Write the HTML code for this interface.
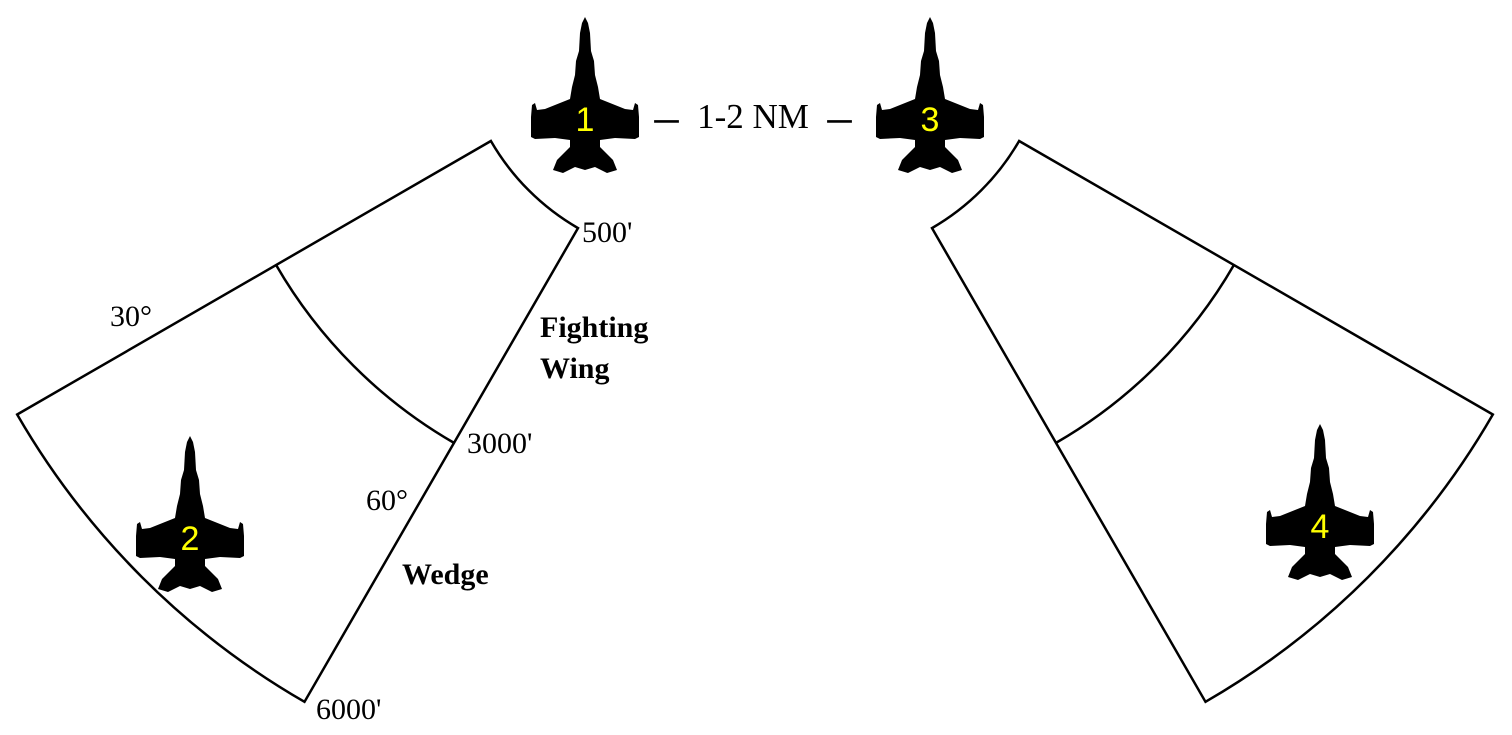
<!DOCTYPE html>
<html><head><meta charset="utf-8"><style>
html,body{margin:0;padding:0;background:#fff;}
svg{display:block;}
text{font-family:"Liberation Serif",serif;fill:#000;}
.num{font-family:"Liberation Sans",sans-serif;fill:#ff0;font-size:34px;}
</style></head><body>
<svg id="c" width="1512" height="735" viewBox="0 0 1512 735">
<g id="wedges"></g>
<g id="planes"></g>
<g>
<text x="655" y="127" font-size="23" stroke="#000" stroke-width="1.5">—</text>
<text x="753" y="128" font-size="35" text-anchor="middle">1-2 NM</text>
<text x="828" y="127" font-size="23" stroke="#000" stroke-width="1.5">—</text>
</g>
<text x="582" y="242" font-size="30">500'</text>
<text x="110" y="326" font-size="30">30°</text>
<text x="540" y="337" font-size="30" font-weight="bold">Fighting</text>
<text x="540" y="378" font-size="30" font-weight="bold">Wing</text>
<text x="467" y="453" font-size="30">3000'</text>
<text x="366" y="510" font-size="30">60°</text>
<text x="402" y="584" font-size="30" font-weight="bold">Wedge</text>
<text x="316" y="719" font-size="30">6000'</text>
</svg>
<script>
const angles=[30,60];
const radii=[238,486,785];
const centers=[[697,22,-1],[813,22,1]];
const planeIds=["1","2","3","4"];
const planePos=[[585,17],[190,436],[930,17],[1320,424]];
const NS="http://www.w3.org/2000/svg";
function pt(c,r,a){const t=a*Math.PI/180;return [c[0]+c[2]*r*Math.cos(t),c[1]+r*Math.sin(t)];}
const wg=document.getElementById('wedges');
centers.forEach((c,i)=>{
  const a0=angles[0],a1=angles[1];
  const rIn=radii[0],rOut=radii[radii.length-1];
  const p1=pt(c,rIn,a0),p2=pt(c,rOut,a0),p3=pt(c,rOut,a1),p4=pt(c,rIn,a1);
  const sw=c[2]<0?0:1;
  let d=`M${p1}L${p2}A${rOut},${rOut} 0 0 ${sw} ${p3}L${p4}A${rIn},${rIn} 0 0 ${1-sw} ${p1}Z`;
  const path=document.createElementNS(NS,'path');
  path.setAttribute('d',d);path.setAttribute('fill','none');path.setAttribute('stroke','#000');path.setAttribute('stroke-width','2.5');
  
  
  wg.appendChild(path);
  radii.slice(1,-1).forEach(r=>{
    const q1=pt(c,r,a0),q2=pt(c,r,a1);
    const arc=document.createElementNS(NS,'path');
    arc.setAttribute('d',`M${q1}A${r},${r} 0 0 ${sw} ${q2}`);
    arc.setAttribute('fill','none');arc.setAttribute('stroke','#000');arc.setAttribute('stroke-width','2.5');
    
    
    wg.appendChild(arc);
  });
});
const shape="M0,0 L3,6 L5,16 L6,34 L9,44 L10,58 L13,70 L15,82 L40,92 L48,93 L50,86 L53,88 L54,100 L54,120 L50,122 L30,121 L15,123 L15,130 L28,143 L32,153 L22,156 L10,150 L0,153 L-10,150 L-22,156 L-32,153 L-28,143 L-15,130 L-15,123 L-30,121 L-50,122 L-54,120 L-54,100 L-53,88 L-50,86 L-48,93 L-40,92 L-15,82 L-13,70 L-10,58 L-9,44 L-6,34 L-5,16 L-3,6 Z";
const pg=document.getElementById('planes');
planeIds.forEach((id,i)=>{
  const g=document.createElementNS(NS,'g');
  g.setAttribute('transform',`translate(${planePos[i][0]},${planePos[i][1]})`);
  
  
  const p=document.createElementNS(NS,'path');p.setAttribute('d',shape);p.setAttribute('fill','#000');
  g.appendChild(p);
  const t=document.createElementNS(NS,'text');t.setAttribute('class','num');t.setAttribute('x','0');t.setAttribute('y','114');t.setAttribute('text-anchor','middle');
  t.textContent=id;
  
  
  g.appendChild(t);
  pg.appendChild(g);
});
</script>
</body></html>
